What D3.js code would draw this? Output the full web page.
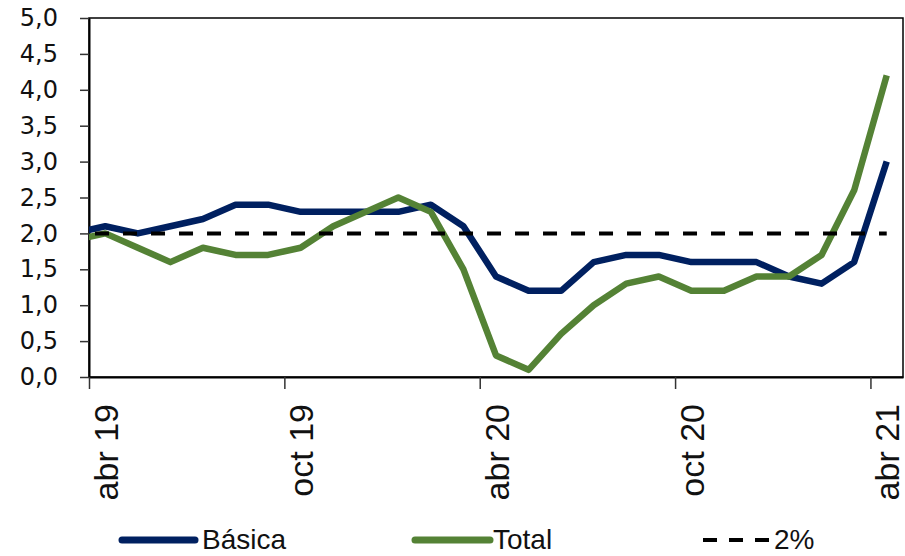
<!DOCTYPE html>
<html>
<head>
<meta charset="utf-8">
<script src="https://cdn.jsdelivr.net/npm/d3@7/dist/d3.min.js"></script>
<style>
  html, body { margin: 0; padding: 0; background: #fff; }
  svg { display: block; }
</style>
</head>
<body>
<svg id="chart" width="905" height="556"></svg>
<script>
// ---- data ----
const months = ["mar 19","abr 19","may 19","jun 19","jul 19","ago 19","sep 19","oct 19","nov 19","dic 19",
                "ene 20","feb 20","mar 20","abr 20","may 20","jun 20","jul 20","ago 20","sep 20","oct 20",
                "nov 20","dic 20","ene 21","feb 21","mar 21","abr 21"];
const basica = [2.0,2.1,2.0,2.1,2.2,2.4,2.4,2.3,2.3,2.3,2.3,2.4,2.1,1.4,1.2,1.2,1.6,1.7,1.7,1.6,1.6,1.6,1.4,1.3,1.6,3.0];
const total  = [1.9,2.0,1.8,1.6,1.8,1.7,1.7,1.8,2.1,2.3,2.5,2.3,1.5,0.3,0.1,0.6,1.0,1.3,1.4,1.2,1.2,1.4,1.4,1.7,2.6,4.2];
const target = months.map(() => 2.0);
const yTicks = [0,0.5,1,1.5,2,2.5,3,3.5,4,4.5,5];
const xLabelIdx = [1,7,13,19,25];
const seriesNames = ["Básica","Total","2%"];

// ---- layout ----
const svg = d3.select("#chart");
const L = 89, R = 903, T = 18, B = 377;
const x = d3.scaleLinear().domain([0.5, months.length - 0.5]).range([L, R]);
const y = d3.scaleLinear().domain([0, 5]).range([B, T]);

svg.append("defs").append("clipPath").attr("id","plotclip")
  .append("rect").attr("x", L).attr("y", T - 10).attr("width", R - L).attr("height", B - T + 20);

// frame
svg.append("rect").attr("x", L).attr("y", T).attr("width", R - L).attr("height", B - T)
  .attr("fill","none").attr("stroke","#000").attr("stroke-width",1.5);

// y axis
const fmt = d => d3.format(".1f")(d).replace(".", ",");
const yAxis = svg.append("g").attr("transform", `translate(${L},0)`)
  .call(d3.axisLeft(y).tickValues(yTicks).tickFormat(fmt).tickSize(9).tickPadding(22).tickSizeOuter(0));
yAxis.select(".domain").attr("stroke","#000").attr("stroke-width",2);
yAxis.selectAll(".tick line").attr("stroke","#333").attr("stroke-width",1.5);
yAxis.selectAll(".tick text").attr("font-family","'DejaVu Sans', sans-serif").attr("font-size",24).attr("fill","#111");

// x axis ticks
const tickPos = xLabelIdx.map(i => i - 0.5);
const xAxis = svg.append("g").attr("transform", `translate(0,${B})`)
  .call(d3.axisBottom(x).tickValues(tickPos).tickFormat("").tickSize(12).tickSizeOuter(0));
xAxis.select(".domain").attr("stroke","#000").attr("stroke-width",2);
xAxis.selectAll(".tick line").attr("stroke","#333").attr("stroke-width",1.5);

// x labels
const xLab = svg.append("g").attr("transform", `translate(0,${B})`)
  .call(d3.axisBottom(x).tickValues(xLabelIdx).tickFormat(i => months[i]).tickSize(0).tickSizeOuter(0));
xLab.select(".domain").remove();
xLab.selectAll(".tick text")
  .attr("font-family","'Liberation Sans', Arial, sans-serif").attr("font-size",34).attr("fill","#111")
  .attr("text-anchor","end").attr("transform","translate(0,27) rotate(-90)")
  .attr("x",0).attr("y",0).attr("dy","0.36em");

// lines
const line = d3.line().x((d,i) => x(i)).y(d => y(d));
const plot = svg.append("g").attr("clip-path","url(#plotclip)");
plot.append("path").datum(basica).attr("d", line).attr("fill","none")
  .attr("stroke","#002060").attr("stroke-width",6.5).attr("stroke-linejoin","round");
plot.append("path").datum(total).attr("d", line).attr("fill","none")
  .attr("stroke","#548235").attr("stroke-width",6.5).attr("stroke-linejoin","round");
plot.append("path").datum(target).attr("d", line).attr("fill","none")
  .attr("stroke","#000").attr("stroke-width",4).attr("stroke-dasharray","14,14").attr("stroke-dashoffset", 5.7);

// legend
const legend = [
  {name: seriesNames[0], color:"#002060", dash:null, x0:122, x1:195, tx:202},
  {name: seriesNames[1], color:"#548235", dash:null, x0:415, x1:490, tx:493},
  {name: seriesNames[2], color:"#000", dash:"14,12", x0:703, x1:772, tx:774}
];
const lg = svg.append("g");
legend.forEach(d => {
  lg.append("line").attr("x1", d.x0).attr("x2", d.x1).attr("y1", 540).attr("y2", 540)
    .attr("stroke", d.color).attr("stroke-width", d.dash ? 4 : 7)
    .attr("stroke-linecap", d.dash ? "butt" : "round")
    .attr("stroke-dasharray", d.dash);
  lg.append("text").attr("x", d.tx).attr("y", 549).text(d.name)
    .attr("font-family","'Liberation Sans', Arial, sans-serif").attr("font-size",28).attr("fill","#111");
});
</script>
</body>
</html>
